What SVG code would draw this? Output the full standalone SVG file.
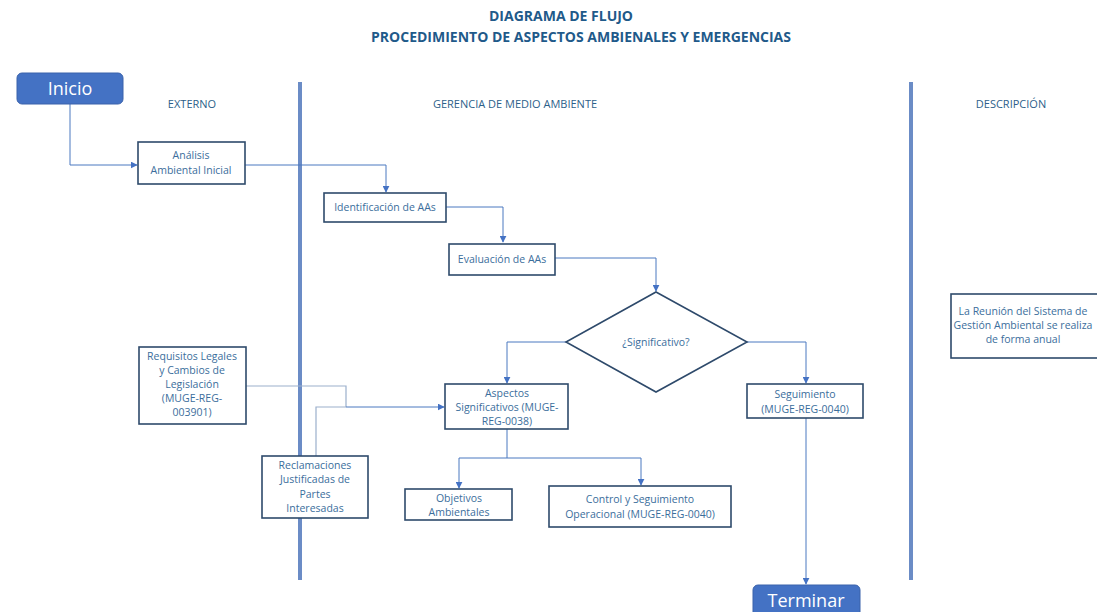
<svg xmlns="http://www.w3.org/2000/svg" width="1097" height="612" viewBox="0 0 1097 612">
<defs>
<style>
.t{font-family:"Open Sans","Liberation Sans",sans-serif;fill:#3b6e9c;font-size:10.5px;text-anchor:middle}
.h{font-family:"Open Sans","Liberation Sans",sans-serif;fill:#2d5f8a;font-size:11px;text-anchor:middle}
.ti{font-family:"Open Sans","Liberation Sans",sans-serif;fill:#1f5a8a;font-size:14px;font-weight:bold;text-anchor:middle}
.box{fill:#fff;stroke:#2e4a6b;stroke-width:1.6}
.term{fill:#4472c4;stroke:#3a62ab;stroke-width:1}
.tw{font-family:"Open Sans","Liberation Sans",sans-serif;fill:#fff;font-size:18px;text-anchor:middle}
.c{fill:none;stroke:#4a78c0;stroke-width:1}
.c2{fill:none;stroke:#9bb0cc;stroke-width:1.2}
.lane{stroke:#6b8cc6;stroke-width:4}
</style>
<marker id="ar" viewBox="0 0 10 10" refX="9" refY="5" markerWidth="7" markerHeight="7" orient="auto" markerUnits="userSpaceOnUse">
<path d="M0,0 L10,5 L0,10 z" fill="#4472c4"/>
</marker>
</defs>
<rect width="1097" height="612" fill="#fff"/>
<text class="ti" x="561" y="21">DIAGRAMA DE FLUJO</text>
<text class="ti" x="581" y="42">PROCEDIMIENTO  DE ASPECTOS AMBIENALES Y EMERGENCIAS</text>
<g id="lanes">
<line class="lane" x1="300" y1="82" x2="300" y2="580"/>
<line class="lane" x1="911" y1="82" x2="911" y2="580"/>
<text class="h" x="192" y="108">EXTERNO</text>
<text class="h" x="515" y="108">GERENCIA DE MEDIO AMBIENTE</text>
<text class="h" x="1011" y="108">DESCRIPCIÓN</text>
</g>
<g id="connectors">
<path class="c" d="M70,104 V165 H137" marker-end="url(#ar)"/>
<path class="c" d="M245,165 H386 V192" marker-end="url(#ar)"/>
<path class="c" d="M446,207 H503 V242" marker-end="url(#ar)"/>
<path class="c" d="M555,258 H656 V291" marker-end="url(#ar)"/>
<path class="c" d="M566,342 H507 V383" marker-end="url(#ar)"/>
<path class="c" d="M747,342 H806 V383" marker-end="url(#ar)"/>
<path class="c2" d="M246,386 H346 V407"/>
<path class="c2" d="M316,456 V407 H346"/>
<path class="c" d="M346,407 H444" marker-end="url(#ar)"/>
<path class="c" d="M507,428 V458 H459 V488" marker-end="url(#ar)"/>
<path class="c" d="M507,458 H641 V485" marker-end="url(#ar)"/>
<path class="c" d="M806,418 V584" marker-end="url(#ar)"/>
</g>
<g id="inicio">
<rect class="term" x="17" y="73" width="106" height="31" rx="5"/>
<text class="tw" x="70" y="95">Inicio</text>
</g>
<g id="analisis">
<rect class="box" x="138" y="142" width="107" height="42"/>
<text class="t" x="191" y="159">Análisis</text>
<text class="t" x="191" y="174">Ambiental Inicial</text>
</g>
<g id="identificacion">
<rect class="box" x="324" y="193" width="122" height="29"/>
<text class="t" x="385" y="211">Identificación de AAs</text>
</g>
<g id="evaluacion">
<rect class="box" x="449" y="244" width="106" height="31"/>
<text class="t" x="502" y="263">Evaluación de AAs</text>
</g>
<g id="significativo">
<polygon class="box" points="656,292 747,342 656,392 566,342"/>
<text class="t" x="656" y="346">¿Significativo?</text>
</g>
<g id="aspectos">
<rect class="box" x="445" y="384" width="123" height="45"/>
<text class="t" x="507" y="397">Aspectos</text>
<text class="t" x="507" y="411">Significativos (MUGE-</text>
<text class="t" x="507" y="425">REG-0038)</text>
</g>
<g id="seguimiento">
<rect class="box" x="747" y="384" width="116" height="34"/>
<text class="t" x="805" y="398">Seguimiento</text>
<text class="t" x="805" y="413">(MUGE-REG-0040)</text>
</g>
<g id="requisitos">
<rect class="box" x="139" y="347" width="107" height="77"/>
<text class="t" x="192" y="360">Requisitos Legales</text>
<text class="t" x="192" y="374">y Cambios de</text>
<text class="t" x="192" y="388">Legislación</text>
<text class="t" x="192" y="402">(MUGE-REG-</text>
<text class="t" x="192" y="416">003901)</text>
</g>
<g id="reclamaciones">
<rect class="box" x="262" y="456" width="106" height="62"/>
<text class="t" x="315" y="469">Reclamaciones</text>
<text class="t" x="315" y="483">Justificadas de</text>
<text class="t" x="315" y="498">Partes</text>
<text class="t" x="315" y="512">Interesadas</text>
</g>
<g id="objetivos">
<rect class="box" x="405" y="489" width="107" height="31"/>
<text class="t" x="459" y="502">Objetivos</text>
<text class="t" x="459" y="516">Ambientales</text>
</g>
<g id="control">
<rect class="box" x="549" y="486" width="182" height="41"/>
<text class="t" x="640" y="503">Control y Seguimiento</text>
<text class="t" x="640" y="518">Operacional (MUGE-REG-0040)</text>
</g>
<g id="descripcion">
<rect class="box" x="951" y="294" width="160" height="64"/>
<text class="t" x="1023" y="315">La Reunión del Sistema de</text>
<text class="t" x="1023" y="329">Gestión Ambiental se realiza</text>
<text class="t" x="1023" y="343">de forma anual</text>
</g>
<g id="terminar">
<rect class="term" x="753" y="585" width="107" height="34" rx="5"/>
<text class="tw" x="806" y="607">Terminar</text>
</g>
</svg>
